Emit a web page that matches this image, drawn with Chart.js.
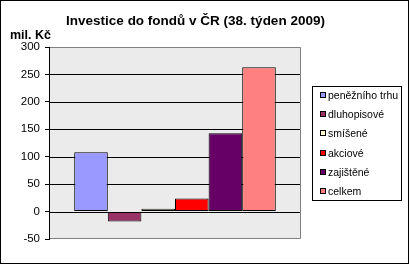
<!DOCTYPE html>
<html lang="cs">
<head>
<meta charset="utf-8"/>
<title>Investice do fondů v ČR</title>
<script src="https://cdn.jsdelivr.net/npm/chart.js"></script>
<style>
  html, body { margin: 0; padding: 0; background: #fff; }
  #wrap { width: 411px; height: 266px; }
</style>
</head>
<body>
<div id="wrap"><canvas id="graf" width="411" height="266"></canvas></div>
<script>
  const nadpis = 'Investice do fondů v ČR (38. týden 2009)';
  const jednotka = 'mil. Kč';
  const kategorie = ['38. týden 2009'];
  const fondy = ['peněžního trhu', 'dluhopisové', 'smíšené', 'akciové', 'zajištěné', 'celkem'];
  const hodnoty = [108, -18, 5, 24, 143, 263];
  const barvy = ['#9999ff', '#993366', '#ffffcc', '#ff0000', '#660066', '#ff8080'];

  const pismo = 'Arial, "Liberation Sans", sans-serif';

  // pozadí grafu, mřížka, rámečky, nadpis a legenda v rámečku
  const vzhled = {
    id: 'vzhled',
    beforeDraw(chart) {
      const { ctx, chartArea: a } = chart;
      ctx.save();
      ctx.fillStyle = '#fff';
      ctx.fillRect(0, 0, chart.width, chart.height);
      ctx.fillStyle = '#ebebeb';
      ctx.fillRect(a.left, a.top, a.right - a.left, a.bottom - a.top);
      ctx.restore();
    },
    beforeDatasetsDraw(chart) {
      const { ctx, chartArea: a } = chart;
      const osa = chart.scales.y;
      ctx.save();
      ctx.lineWidth = 1;
      ctx.strokeStyle = '#000000';
      osa.ticks.forEach(t => {
        if (t.value === osa.max || t.value === osa.min) return;
        const y = Math.round(osa.getPixelForValue(t.value)) + 0.5;
        ctx.beginPath();
        ctx.moveTo(a.left, y);
        ctx.lineTo(a.right, y);
        ctx.stroke();
      });
      ctx.strokeStyle = '#808080';
      ctx.beginPath();
      ctx.moveTo(a.left + 1, a.top + 0.5);
      ctx.lineTo(a.right - 0.5, a.top + 0.5);
      ctx.lineTo(a.right - 0.5, a.bottom - 0.5);
      ctx.lineTo(a.left + 1, a.bottom - 0.5);
      ctx.stroke();
      ctx.restore();
    },
    afterDraw(chart) {
      const { ctx } = chart;
      ctx.save();
      ctx.strokeStyle = '#000';
      ctx.lineWidth = 1;
      ctx.strokeRect(0.5, 0.5, 408, 263);

      ctx.fillStyle = '#000';
      ctx.font = 'bold 13.5px ' + pismo;
      ctx.textAlign = 'center';
      ctx.textBaseline = 'alphabetic';
      ctx.fillText(nadpis, 195.5, 25);
      ctx.font = 'bold 12.5px ' + pismo;
      ctx.textAlign = 'left';
      ctx.fillText(jednotka, 10, 39);

      // legenda
      ctx.strokeRect(312.5, 86.5, 89, 114);
      ctx.font = '10.5px ' + pismo;
      ctx.textBaseline = 'middle';
      chart.data.datasets.forEach((ds, i) => {
        const y = Math.round(96 + i * 19.2);
        ctx.fillStyle = ds.backgroundColor;
        ctx.fillRect(320, y - 3, 5, 5);
        ctx.strokeRect(320.5, y - 3.5, 5, 5);
        ctx.fillStyle = '#000';
        ctx.fillText(ds.label, 328, y);
      });
      ctx.restore();
    }
  };

  new Chart(document.getElementById('graf'), {
    type: 'bar',
    data: {
      labels: kategorie,
      datasets: fondy.map((f, i) => ({
        label: f,
        data: [hodnoty[i]],
        backgroundColor: barvy[i],
        borderColor: '#000',
        borderWidth: 1,
        borderSkipped: false,
        categoryPercentage: 0.8,
        barPercentage: 1
      }))
    },
    options: {
      responsive: false,
      animation: false,
      layout: { padding: { top: 47, right: 110, bottom: 27, left: 0 } },
      plugins: {
        legend: { display: false },
        title: { display: false },
        tooltip: { enabled: false }
      },
      scales: {
        x: { display: false },
        y: {
          min: -50,
          max: 300,
          afterFit(s) { s.width = 49; },
          ticks: {
            stepSize: 50,
            color: '#000',
            padding: 5,
            font: { family: pismo, size: 11.5 }
          },
          grid: {
            drawOnChartArea: false,
            color: '#000',
            tickColor: '#000',
            tickLength: 4
          },
          border: { color: '#000', width: 1 }
        }
      }
    },
    plugins: [vzhled]
  });
</script>
</body>
</html>
